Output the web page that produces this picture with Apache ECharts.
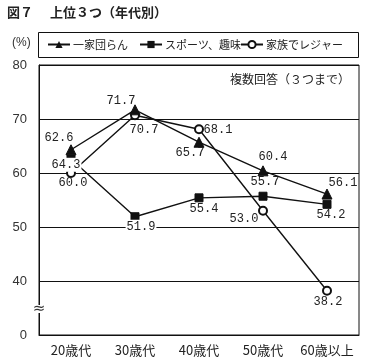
<!DOCTYPE html>
<html><head><meta charset="utf-8">
<script src="https://cdn.jsdelivr.net/npm/echarts@6/dist/echarts.min.js"></script>
<style>html,body{margin:0;padding:0;background:#fff}#c{width:375px;height:363px}</style>
</head><body><div id="c"></div>
<script>
// ---- data ----
const categories = ['20歳代', '30歳代', '40歳代', '50歳代', '60歳以上'];
const seriesNames = ['一家団らん', 'スポーツ、趣味', '家族でレジャー'];
const danran  = [64.3, 71.7, 65.7, 60.4, 56.1];
const sports  = [62.6, 51.9, 55.4, 55.7, 54.2];
const leisure = [60.0, 70.7, 68.1, 53.0, 38.2];
const yTicks = [30, 40, 50, 60, 70, 80];   // 30 is drawn as "0" (broken axis)
const yTickLabels = ['0', '40', '50', '60', '70', '80'];

// ---- label offsets / backgrounds (layout only) ----
const offDanran  = [[-5, 15], [-14, -9], [-9, 11], [10, -14], [16, -11]];
const offSports  = [[-12, -21], [6, 10], [5, 11], [2, -14], [4, 11]];
const offLeisure = [[2, 10], [9, 15], [19, 1], [-19, 8], [1, 11]];
const bgDanran  = [true, false, false, false, false];
const bgSports  = [false, true, false, false, false];
const bgLeisure = [false, false, false, false, false];

const FONT_JP = '"Noto Sans CJK JP", "Noto Sans", sans-serif';
const lblStyle = {
  show: true, position: 'inside', color: '#222',
  fontFamily: '"Liberation Mono", "DejaVu Sans Mono", monospace', fontSize: 12,
  formatter: p => p.value.toFixed(1)
};
function build(vals, offs, bgs) {
  return vals.map((v, i) => ({ value: v, label: Object.assign({ offset: offs[i] },
    bgs[i] ? { backgroundColor: '#fff', padding: [1, 1] } : {}) }));
}
const chart = echarts.init(document.getElementById('c'), null, { renderer: 'canvas' });
const lineBase = { type: 'line', lineStyle: { color: '#111', width: 1.4 }, itemStyle: { color: '#111', borderColor: '#111' }, label: lblStyle, emphasis: { disabled: true }, animation: false };
const legendBase = { top: 39, padding: 0, itemWidth: 22, itemHeight: 9, itemGap: 0,
  textStyle: { fontFamily: FONT_JP, fontSize: 11, color: '#222', padding: [0, 0, 0, -2] }, selectedMode: false };
chart.setOption({
  animation: false,
  textStyle: { fontFamily: FONT_JP },
  grid: { left: 39, right: 16, top: 65, bottom: 28, show: true, borderColor: '#111', borderWidth: 1 },
  legend: [
    Object.assign({ left: 47, data: [seriesNames[0]] }, legendBase),
    Object.assign({ left: 139, data: [seriesNames[1]] }, legendBase),
    Object.assign({ left: 240, data: [seriesNames[2]] }, legendBase)
  ],
  xAxis: {
    type: 'category', data: categories, boundaryGap: true,
    axisLine: { lineStyle: { color: '#111' } },
    axisTick: { inside: true, length: 4, interval: 0, lineStyle: { color: '#111' } },
    axisLabel: { color: '#222', fontSize: 13, fontFamily: FONT_JP, margin: 9, interval: 0 }
  },
  yAxis: {
    type: 'value', min: yTicks[0], max: yTicks[yTicks.length - 1], interval: 10,
    axisLine: { show: true, lineStyle: { color: '#111' } },
    axisTick: { show: false },
    splitLine: { lineStyle: { color: '#111', width: 1 } },
    axisLabel: { color: '#333', fontSize: 13, fontFamily: '"Liberation Sans", Arial, sans-serif', margin: 12,
      formatter: v => yTickLabels[yTicks.indexOf(v)] }
  },
  graphic: [
    { type: 'text', left: 7, top: 6, style: { text: '図７', font: 'bold 13px "Noto Sans CJK JP"', fill: '#222' } },
    { type: 'text', left: 50, top: 6, style: { text: '上位３つ（年代別）', font: 'bold 13px "Noto Sans CJK JP"', fill: '#222' } },
    { type: 'text', left: 12, top: 37, style: { text: '(%)', font: '12px "Liberation Sans"', fill: '#333' } },
    { type: 'rect', shape: { x: 38.5, y: 32.5, width: 320, height: 25 }, style: { fill: 'none', stroke: '#111', lineWidth: 1 }, z: 10 },
    { type: 'text', right: 25, top: 73, style: { text: '複数回答（３つまで）', font: '12px "Noto Sans CJK JP"', fill: '#222' } },
    { type: 'rect', shape: { x: 34, y: 305, width: 10, height: 8 }, style: { fill: '#fff' }, z: 20 },
    { type: 'text', x: 39, y: 309, style: { text: '≈', font: '15px "DejaVu Sans"', fill: '#333', align: 'center', verticalAlign: 'middle' }, z: 21 }
  ],
  series: [
    Object.assign({}, lineBase, { name: seriesNames[0], z: 4, symbol: 'triangle', symbolSize: 10, data: build(danran, offDanran, bgDanran) }),
    Object.assign({}, lineBase, { name: seriesNames[1], z: 3, symbol: 'rect', symbolSize: 8, data: build(sports, offSports, bgSports) }),
    Object.assign({}, lineBase, { name: seriesNames[2], z: 2, symbol: 'emptyCircle', symbolSize: 8,
      itemStyle: { color: '#111', borderColor: '#111', borderWidth: 1.4 }, data: build(leisure, offLeisure, bgLeisure) })
  ]
});
</script></body></html>
